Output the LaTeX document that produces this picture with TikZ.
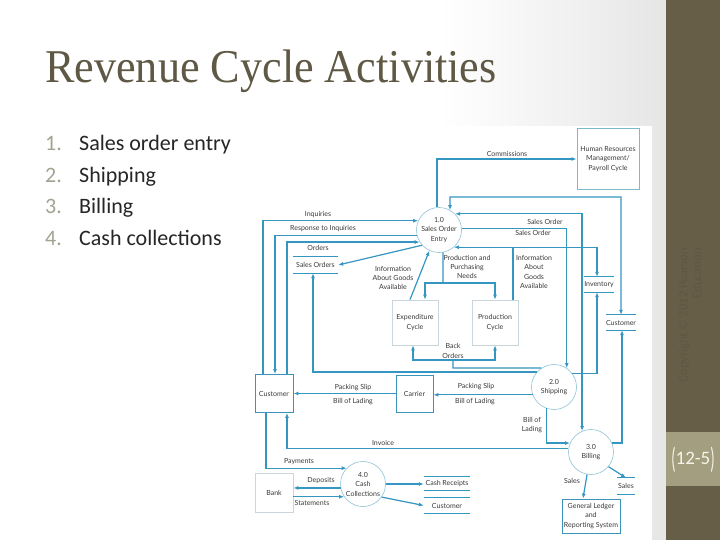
\documentclass[tikz,border=0pt]{standalone}
\usepackage{fontspec}
\setmainfont{Liberation Serif}
\newfontfamily\listfont{Carlito}
\newfontfamily\dfont{Lato}
\usetikzlibrary{arrows.meta,calc}
\definecolor{flowc}{HTML}{3596C2}
\definecolor{circc}{HTML}{8CC3D5}
\definecolor{boxc}{HTML}{3C93B8}
\definecolor{lboxc}{HTML}{C9D7DC}
\definecolor{hrc}{HTML}{7DBACD}
\definecolor{dtext}{HTML}{3A3A3A}
\definecolor{titlec}{HTML}{5E5844}
\definecolor{numc}{HTML}{A3A392}
\definecolor{listc}{HTML}{262626}
\definecolor{band}{HTML}{675E48}
\definecolor{tabc}{HTML}{A29E7F}
\definecolor{tabtext}{HTML}{F7F5EA}
\definecolor{copyc}{HTML}{5F5744}
\definecolor{bggray}{HTML}{E6E6E6}
\begin{document}
\begin{tikzpicture}[x=1pt,y=-1pt,
  flow/.style={draw=flowc,line width=1.2pt,-{Latex[length=5pt,width=4pt]}},
  flowline/.style={draw=flowc,line width=1.2pt},
  bubble/.style={circle,draw=circc,line width=0.6pt,minimum size=45pt,inner sep=0pt,align=center,font=\dfont\fontsize{7}{9.5}\selectfont,text=dtext},
  ent/.style={rectangle,draw=boxc,line width=0.9pt,inner sep=0pt,align=center,font=\dfont\fontsize{7}{9.3}\selectfont,text=dtext},
  lent/.style={ent,draw=lboxc,line width=0.7pt},
  ds/.style={rectangle,inner sep=0pt,font=\dfont\fontsize{7}{9}\selectfont,text=dtext},
  dsline/.style={draw=flowc,line width=1.1pt},
  lbl/.style={font=\dfont\fontsize{7}{9.3}\selectfont,text=dtext,align=center,inner sep=0pt},
  listnum/.style={anchor=base west,font=\listfont\fontsize{22}{26}\selectfont,text=numc,inner sep=0pt},
  listtxt/.style={anchor=base west,font=\listfont\fontsize{22}{26}\selectfont,text=listc,inner sep=0pt},
  both/.style={{Latex[length=5pt,width=4pt]}-{Latex[length=5pt,width=4pt]}},
]
\useasboundingbox (0,0) rectangle (720,540);
% background
\fill[white] (0,0) rectangle (440,540);
\shade[left color=white,right color=bggray] (440,0) rectangle (666,540);
\fill[band] (666,0) rectangle (720,540);
\fill[tabc] (666,432) rectangle (720,486);
\node[font=\listfont\fontsize{19}{22}\selectfont,text=tabtext,inner sep=0pt] (pg) at (693,460)
  {\raisebox{-0.2em}{\scalebox{0.75}[1.55]{(}}12-5\raisebox{-0.2em}{\scalebox{0.75}[1.55]{)}}};
\node[rotate=90,anchor=east,align=right,font=\listfont\fontsize{12.5}{14}\selectfont,text=copyc,inner sep=0pt] (copy) at (690,248)
  {Copyright \textcopyright{} 2012 Pearson\\Education};
% title and list
\node[anchor=base west,text=titlec,font=\fontsize{47}{50}\selectfont,inner sep=0pt] (title) at (45,83)
  {\scalebox{0.94}[1]{Revenue Cycle Activities}};
\node[listnum] (n1) at (45,151) {1.};
\node[listnum] (n2) at (45,182.5) {2.};
\node[listnum] (n3) at (45,214) {3.};
\node[listnum] (n4) at (45,245.5) {4.};
\node[listtxt] (t1) at (79,151) {Sales order entry};
\node[listtxt] (t2) at (79,182.5) {Shipping};
\node[listtxt] (t3) at (79,214) {Billing};
\node[listtxt] (t4) at (79,245.5) {Cash collections};
% diagram area
\fill[white] (250,126) rectangle (652,540);
% processes
\node[bubble] (c1) at (439,230) {1.0\\Sales Order\\Entry};
\node[bubble] (c2) at (554,387) {2.0\\Shipping};
\node[bubble] (c3) at (591,452) {3.0\\Billing};
\node[bubble] (c4) at (363,484) {4.0\\Cash\\Collections};
% entities
\node[ent,draw=hrc,minimum width=62pt,minimum height=61pt] (hr) at (608,159) {Human Resources\\Management/\\Payroll Cycle};
\node[ent,minimum width=38pt,minimum height=38pt] (cust) at (274,393.5) {Customer};
\node[ent,minimum width=37pt,minimum height=37pt] (carrier) at (414.5,393.5) {Carrier};
\node[lent,minimum width=46pt,minimum height=45pt] (exp) at (415,322.5) {Expenditure\\Cycle};
\node[lent,minimum width=46pt,minimum height=45pt] (prod) at (495,322.5) {Production\\Cycle};
\node[lent,minimum width=38pt,minimum height=39pt] (bank) at (274,492.5) {Bank};
\node[ent,minimum width=58pt,minimum height=34pt] (gl) at (591,516) {General Ledger\\and\\Reporting System};
% data stores
\node[ds,minimum width=45pt,minimum height=16pt] (so) at (315.5,265) {Sales Orders};
\node[ds,minimum width=30pt,minimum height=15pt] (inv) at (599,284.5) {Inventory};
\node[ds,minimum width=30pt,minimum height=15pt] (cr) at (621,322.5) {Customer};
\node[ds,minimum width=18pt,minimum height=16pt] (sal) at (626,486) {Sales};
\node[ds,minimum width=46pt,minimum height=13pt] (cash) at (447,483.5) {Cash Receipts};
\node[ds,minimum width=46pt,minimum height=15pt] (cb) at (447,505.5) {Customer};
\foreach \n in {so,inv,cr,sal,cash,cb}
  \draw[dsline] (\n.north west) -- (\n.north east) (\n.south west) -- (\n.south east);
% waypoints
\coordinate (k1) at (450,197);
\coordinate (j1) at (443,283);
\coordinate (bo1) at (453,368);
\coordinate (bo2) at (453,360);
\coordinate (pj) at (513,300);
% flows
\draw[flow] (c1.95) -- (c1.95 |- hr.west) -- (hr.west);
\draw[flow,both] (c1.61) -- (k1) -| (cr.north);
\draw[flow,both] (c1.45) -| (c3.113);
\draw[flow] (c1.3) -| (c2.56);
\draw[flow,both] (c1.-49) -| ($(inv.north)+(-2,0)$);
\draw[flowline] (pj) -- (pj |- c1.-49);
\draw[flowline] (c1.-80) -- (j1);
\draw[flow] (j1) -| ($(exp.north)+(10,0)$);
\draw[flow] (j1) -| (prod.north);
\draw[flow] ($(exp.north)+(-5,0)$) -- (c1.-115);
\draw[flow] (c1.222) -- (so.east);
\draw[flow] ($(cust.north)+(-11,0)$) |- (c1.156);
\draw[flow] (c1.193) -| ($(cust.north)+(1,0)$);
\draw[flow] ($(cust.north)+(13,0)$) |- (c1.212);
\draw[flowline] (c2.124) -- (bo1) -- (bo2);
\draw[flow] (bo2) -| ($(exp.south)+(-2,0)$);
\draw[flow] (bo2) -| (prod.south);
\draw[flow] (c2.139) -| ($(so.south)+(-2.5,0)$);
\draw[flow] (c2.37) -| ($(inv.south)+(-2,0)$);
\draw[flow] (c2.200) -- (c2.200 -| carrier.east);
\draw[flow] (carrier.west) -- (cust.east);
\draw[flow] (c2.-110) |- (c3.157);
\draw[flow] (c3.172) -| ($(cust.south)+(13,0)$);
\draw[flow] (c3.23) -| ($(cr.south)+(1,0)$);
\draw[flow] (c3.-100) -- ($(gl.north)+(-8,0)$);
\draw[flow] (c3.-40) -- (sal.north);
\draw[flow] ($(cust.south)+(-8,0)$) |- (c4.136);
\draw[flow] (c4.190) -- (c4.190 -| bank.east);
\draw[flow] (c4.214 -| bank.east) -- (c4.214);
\draw[flow] (c4.0) -- (c4.0 -| cash.west);
\draw[flow] (c4.-35) -- (cb.west);
% labels
\node[lbl] (lcom) at (507,154) {Commissions};
\node[lbl] (linq) at (318,215) {Inquiries};
\node[lbl] (lresp) at (323,229) {Response to Inquiries};
\node[lbl] (lord) at (318,248) {Orders};
\node[lbl] (liga) at (393,278) {Information\\About Goods\\Available};
\node[lbl] (lppn) at (467,267) {Production and\\Purchasing\\Needs};
\node[lbl] (liga2) at (534,272) {Information\\About\\Goods\\Available};
\node[lbl] (lso1) at (545,222) {Sales Order};
\node[lbl] (lso2) at (533,233) {Sales Order};
\node[lbl] (lbo) at (453,351) {Back\\Orders};
\node[lbl] (lps1) at (353,388) {Packing Slip};
\node[lbl] (lbl1) at (353,402) {Bill of Lading};
\node[lbl] (lps2) at (476,387) {Packing Slip};
\node[lbl] (lbl2) at (475,402) {Bill of Lading};
\node[lbl] (lbl3) at (532,425) {Bill of\\Lading};
\node[lbl] (linv) at (383,443) {Invoice};
\node[lbl] (lsal) at (572,481) {Sales};
\node[lbl] (lpay) at (299,462) {Payments};
\node[lbl] (ldep) at (321,481) {Deposits};
\node[lbl] (lsta) at (312,503) {Statements};
\end{tikzpicture}
\end{document}
